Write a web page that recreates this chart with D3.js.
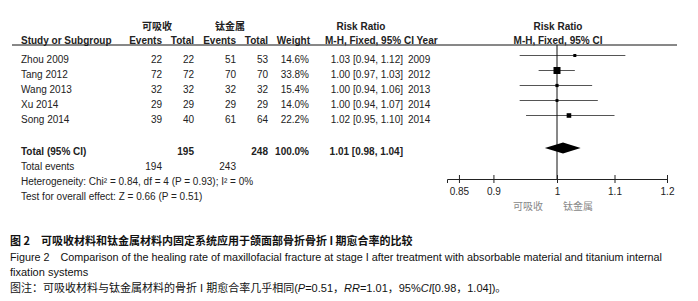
<!DOCTYPE html>
<html>
<head>
<meta charset="utf-8">
<script src="https://cdn.jsdelivr.net/npm/d3@7"></script>
<style>
  body { margin: 0; background: #fff; }
  text { font-family: "Liberation Sans", Arial, sans-serif; fill: #222; }
  .b { font-weight: bold; }
  .cn { font-family: "Noto Sans CJK SC", sans-serif; }
</style>
</head>
<body>
<div id="chart"></div>
<script>
const studies = ["Zhou 2009", "Tang 2012", "Wang 2013", "Xu 2014", "Song 2014"];
const expEvents = [22, 72, 32, 29, 39];
const expTotal = [22, 72, 32, 29, 40];
const ctrlEvents = [51, 70, 32, 29, 61];
const ctrlTotal = [53, 70, 32, 29, 64];
const weights = [14.6, 33.8, 15.4, 14.0, 22.2];
const rr = [1.03, 1.00, 1.00, 1.00, 1.02];
const lower = [0.94, 0.97, 0.94, 0.94, 0.95];
const upper = [1.12, 1.03, 1.06, 1.07, 1.10];
const years = [2009, 2012, 2013, 2014, 2014];
const total = { exp: 195, ctrl: 248, expEvents: 194, ctrlEvents: 243, rr: 1.01, lo: 0.98, hi: 1.04 };
const ticks = [0.85, 0.9, 1, 1.1, 1.2];

const width = 698, height = 301;

const svg = d3.select("#chart")
  .append("svg")
    .attr("width", width)
    .attr("height", height);

const fmt = d3.format(".2f");
const rows = studies.map((s, i) => ({
  study: s, e1: expEvents[i], t1: expTotal[i], e2: ctrlEvents[i], t2: ctrlTotal[i],
  w: weights[i], rr: rr[i], lo: lower[i], hi: upper[i], year: years[i]
}));

const yRow = d3.scaleLinear().domain([0, 1]).range([59, 74]);
const x = d3.scaleLog().domain([1 / 1.2, 1.2]).range([447, 667]);
const size = d3.scaleLinear().domain([0, d3.max(weights)]).range([0, 7]);

// column positions (right edge)
const col = { e1: 162, t1: 194, e2: 236, t2: 268, w: 309, ci: 403, year: 408 };

function txt(x0, y0, s, anchor, cls) {
  return svg.append("text")
    .attr("x", x0).attr("y", y0)
    .attr("dy", "0.35em")
    .attr("text-anchor", anchor || "start")
    .attr("class", cls || null)
    .style("font-size", "10px")
    .text(s);
}

// group headers
txt(157, 26, "可吸收", "middle", "b cn");
txt(230, 26, "钛金属", "middle", "b cn");
txt(361, 26, "Risk Ratio", "middle", "b");
txt(558, 26, "Risk Ratio", "middle", "b");

// column headers
txt(21, 40, "Study or Subgroup", "start", "b");
txt(col.e1, 40, "Events", "end", "b");
txt(col.t1, 40, "Total", "end", "b");
txt(col.e2, 40, "Events", "end", "b");
txt(col.t2, 40, "Total", "end", "b");
txt(col.w + 1, 40, "Weight", "end", "b");
txt(325, 40, "M-H, Fixed, 95% CI Year", "start", "b");
txt(558, 40, "M-H, Fixed, 95% CI", "middle", "b");

svg.append("line")
  .attr("x1", 12).attr("x2", 677)
  .attr("y1", 45).attr("y2", 45)
  .attr("stroke", "#111").attr("stroke-width", 1);

// study rows
rows.forEach((d, i) => {
  const y0 = yRow(i);
  txt(21, y0, d.study);
  txt(col.e1, y0, d.e1, "end");
  txt(col.t1, y0, d.t1, "end");
  txt(col.e2, y0, d.e2, "end");
  txt(col.t2, y0, d.t2, "end");
  txt(col.w, y0, d.w.toFixed(1) + "%", "end");
  txt(col.ci, y0, `${fmt(d.rr)} [${fmt(d.lo)}, ${fmt(d.hi)}]`, "end");
  txt(col.year, y0, d.year);
});

// totals
const yTot = 151;
txt(21, yTot, "Total (95% CI)", "start", "b");
txt(col.t1, yTot, total.exp, "end", "b");
txt(col.t2, yTot, total.ctrl, "end", "b");
txt(col.w, yTot, "100.0%", "end", "b");
txt(col.ci, yTot, `${fmt(total.rr)} [${fmt(total.lo)}, ${fmt(total.hi)}]`, "end", "b");
txt(21, 166, "Total events");
txt(col.e1, 166, total.expEvents, "end");
txt(col.e2, 166, total.ctrlEvents, "end");
txt(21, 181, "Heterogeneity: Chi² = 0.84, df = 4 (P = 0.93); I² = 0%");
txt(21, 196, "Test for overall effect: Z = 0.66 (P = 0.51)");

// forest plot
const axisY = 179;
const plot = svg.append("g");

plot.selectAll(".ci")
  .data(rows)
  .enter().append("line")
    .attr("class", "ci")
    .attr("x1", d => x(d.lo)).attr("x2", d => x(d.hi))
    .attr("y1", (d, i) => yRow(i) - 3.5).attr("y2", (d, i) => yRow(i) - 3.5)
    .attr("stroke", "#555").attr("stroke-width", 1);

plot.append("line")
  .attr("x1", x(1)).attr("x2", x(1))
  .attr("y1", 45).attr("y2", axisY)
  .attr("stroke", "#111").attr("stroke-width", 1);

plot.selectAll(".sq")
  .data(rows)
  .enter().append("rect")
    .attr("class", "sq")
    .attr("x", d => x(d.rr) - size(d.w) / 2)
    .attr("y", (d, i) => yRow(i) - 3.5 - size(d.w) / 2)
    .attr("width", d => size(d.w))
    .attr("height", d => size(d.w))
    .attr("fill", "#000");

const dy = yTot - 3;
plot.append("path")
  .attr("d", `M${x(total.lo)},${dy} L${x(total.rr)},${dy - 5.5} L${x(total.hi)},${dy} L${x(total.rr)},${dy + 5.5} Z`)
  .attr("fill", "#000");

const axis = plot.append("g")
  .attr("transform", `translate(0,${axisY})`)
  .call(d3.axisBottom(x).tickValues(ticks).tickFormat(d => d).tickSize(4).tickPadding(5));
axis.select(".domain").attr("stroke", "#222");
axis.selectAll(".tick line").attr("y1", -4).attr("stroke", "#222");
axis.selectAll(".tick text")
  .style("font-size", "10px")
  .style("font-family", "'Liberation Sans', Arial, sans-serif")
  .attr("fill", "#222");

svg.append("text").attr("class", "cn").attr("x", 543).attr("y", 206).attr("dy", "0.35em")
  .attr("text-anchor", "end").style("font-size", "10px").style("fill", "#888").text("可吸收");
svg.append("text").attr("class", "cn").attr("x", 563).attr("y", 206).attr("dy", "0.35em")
  .attr("text-anchor", "start").style("font-size", "10px").style("fill", "#888").text("钛金属");

// captions
svg.append("text").attr("class", "cn").attr("x", 10).attr("y", 241).attr("dy", "0.35em")
  .style("font-size", "11px").style("font-weight", "bold").style("fill", "#111")
  .text("图 2\u2003可吸收材料和钛金属材料内固定系统应用于颌面部骨折骨折 I 期愈合率的比较");

svg.append("text").attr("x", 10).attr("y", 257).attr("dy", "0.35em")
  .style("font-size", "11px").style("fill", "#111")
  .attr("textLength", 652).attr("lengthAdjust", "spacingAndGlyphs")
  .text("Figure 2\u2003Comparison of the healing rate of maxillofacial fracture at stage I after treatment with absorbable material and titanium internal");

svg.append("text").attr("x", 10).attr("y", 272).attr("dy", "0.35em")
  .style("font-size", "11px").style("fill", "#111")
  .text("fixation systems");

const note = svg.append("text").attr("x", 10).attr("y", 288).attr("dy", "0.35em")
  .style("font-size", "11px").style("fill", "#111");
const parts = [
  ["图注：可吸收材料与钛金属材料的骨折 I 期愈合率几乎相同(", false],
  ["P", true], ["=0.51，", false], ["RR", true], ["=1.01，95%", false],
  ["CI", true], ["[0.98，1.04])。", false]
];
parts.forEach(([s, it]) => {
  note.append("tspan")
    .style("font-family", "'Liberation Sans', 'Noto Sans CJK SC', sans-serif")
    .style("font-style", it ? "italic" : "normal")
    .text(s);
});
</script>
</body>
</html>
